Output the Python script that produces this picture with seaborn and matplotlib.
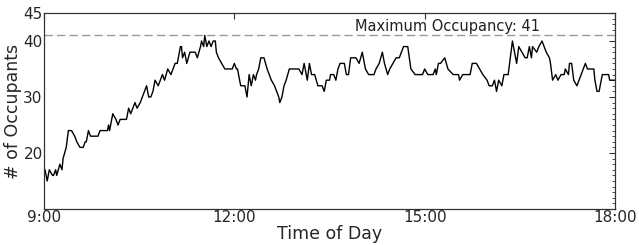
import numpy as np
import pandas as pd
import matplotlib
matplotlib.use("Agg")
import matplotlib.pyplot as plt
from matplotlib.ticker import MultipleLocator
import seaborn as sns

# minutes after 9:00 and occupant count
minutes = [1, 3, 5, 8, 9, 11, 12, 15, 17, 18, 21, 23, 26, 29, 31, 34, 37, 39, 40, 42,
           44, 51, 53, 60, 61, 62, 65, 68, 70, 72, 78, 80, 82, 84, 86, 88, 91, 93, 95, 97,
           99, 101, 103, 105, 108, 110, 112, 114, 117, 120, 122, 124, 126, 129, 130, 131, 133, 135, 138, 143,
           145, 148, 149, 151, 152, 154, 156, 158, 160, 162, 163, 165, 168, 171, 178, 180, 182, 183, 184, 186,
           188, 190, 192, 194, 196, 198, 200, 201, 203, 205, 208, 211, 215, 218, 220, 222, 223, 225, 227, 229,
           232, 241, 244, 246, 249, 251, 253, 256, 259, 263, 265, 267, 270, 271, 274, 276, 278, 280, 284, 286,
           288, 290, 295, 298, 301, 304, 307, 312, 314, 317, 320, 322, 325, 327, 330, 333, 336, 338, 340, 344,
           347, 351, 358, 360, 363, 368, 370, 371, 373, 375, 379, 382, 387, 392, 393, 396, 400, 403, 405, 409,
           412, 415, 419, 421, 424, 426, 428, 430, 433, 435, 439, 441, 443, 444, 447, 449, 452, 455, 457, 459,
           461, 462, 466, 468, 471, 473, 475, 478, 479, 481, 484, 486, 489, 492, 493, 496, 497, 499, 501, 504,
           506, 508, 512, 514, 520, 521, 523, 525, 527, 528, 534, 535, 540]
occupants = [17, 15, 17, 16, 16, 17, 16, 18, 17, 19, 21, 24, 24, 23, 22, 21, 21, 22, 22, 24,
             23, 23, 24, 24, 25, 24, 27, 26, 25, 26, 26, 28, 27, 28, 29, 28, 29, 30, 31, 32,
             30, 30, 31, 33, 32, 33, 34, 33, 35, 34, 35, 36, 36, 39, 39, 37, 38, 36, 38, 38,
             37, 39, 40, 39, 41, 39, 40, 39, 40, 40, 38, 37, 36, 35, 35, 36, 35, 35, 34, 32,
             32, 32, 30, 34, 32, 34, 33, 34, 35, 37, 37, 35, 33, 32, 31, 30, 29, 30, 32, 33,
             35, 35, 34, 36, 33, 36, 34, 34, 32, 32, 31, 33, 33, 34, 34, 33, 35, 36, 36, 34,
             34, 37, 37, 36, 38, 35, 34, 34, 35, 36, 38, 36, 34, 35, 36, 37, 37, 38, 39, 39,
             35, 34, 34, 35, 34, 34, 35, 34, 36, 36, 37, 35, 34, 34, 33, 34, 34, 34, 36, 36,
             35, 34, 33, 32, 32, 33, 31, 33, 32, 34, 34, 37, 40, 39, 36, 39, 38, 37, 37, 39,
             37, 39, 38, 39, 40, 39, 38, 37, 36, 33, 34, 33, 34, 34, 35, 34, 36, 36, 33, 32,
             33, 34, 36, 35, 35, 33, 31, 31, 33, 34, 34, 33, 33]

max_occ = 41
hour_ticks = [9, 12, 15, 18]
hour_labels = ["9:00", "12:00", "15:00", "18:00"]
y_ticks = [20, 30, 40, 45]

df = pd.DataFrame({"hour": 9 + np.array(minutes) / 60.0, "occupants": occupants})

sns.set_style("white")
plt.rcParams["font.family"] = ["DejaVu Sans"]

fig = plt.figure(figsize=(6.39, 2.45), dpi=100)
ax = fig.add_axes([0.0689, 0.147, 0.8935, 0.800])

sns.lineplot(data=df, x="hour", y="occupants", color="black", linewidth=1.0, ax=ax)
ax.axhline(max_occ, color="#999999", linestyle=(0, (6, 3)), linewidth=1.0)
ax.text(16.82, max_occ + 0.3, "Maximum Occupancy: %d" % max_occ, ha="right", va="bottom",
        fontsize=10.5, color="#222222")

ax.set_xlim(9, 18)
ax.set_ylim(10, 45)
ax.set_xticks(hour_ticks)
ax.set_xticklabels(hour_labels)
ax.set_yticks(y_ticks)
ax.yaxis.set_minor_locator(MultipleLocator(1))
ax.tick_params(which="both", direction="in", top=True, right=True, labelsize=11)
ax.tick_params(axis="y", pad=1)
ax.tick_params(axis="x", pad=1)
ax.tick_params(which="major", length=4, color="#333333")
ax.tick_params(which="minor", length=2, color="#333333")
for s in ax.spines.values():
    s.set_color("#333333")
    s.set_linewidth(0.9)
ax.set_xlabel("Time of Day", fontsize=12.5, labelpad=0)
ax.set_ylabel("# of Occupants", fontsize=12.5, labelpad=1)

fig.savefig("out.png", dpi=100)
